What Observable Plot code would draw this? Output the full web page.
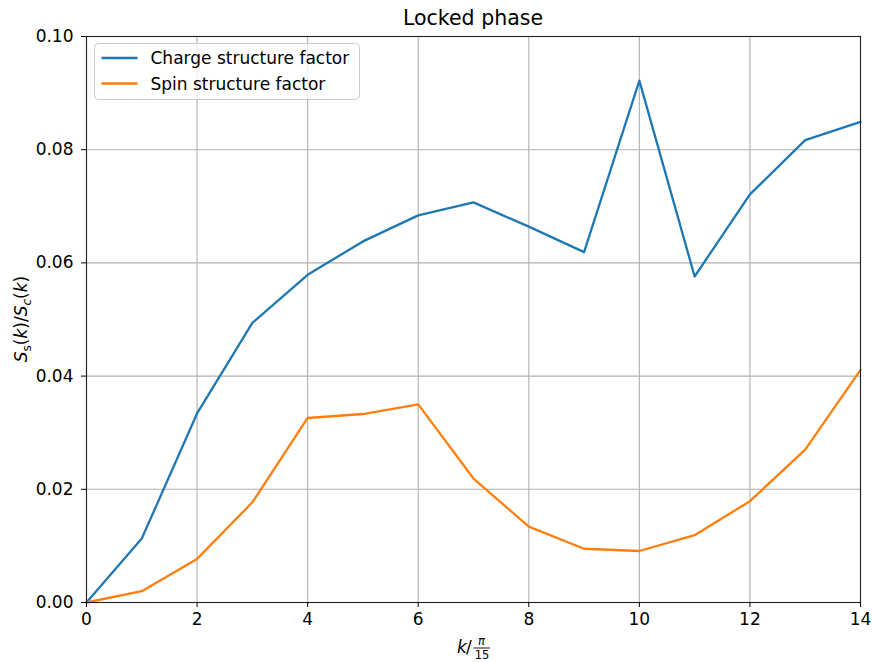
<!DOCTYPE html>
<html>
<head>
<meta charset="utf-8">
<script src="https://cdn.jsdelivr.net/npm/d3@7"></script>
<script src="https://cdn.jsdelivr.net/npm/@observablehq/plot@0.6"></script>
<style>
  html, body { margin: 0; padding: 0; background: #fff; }
  svg { font-family: "DejaVu Sans", sans-serif; }
</style>
</head>
<body>
<div id="chart"></div>
<script>
// Momentum index k (in units of pi/15)
const k = [0, 1, 2, 3, 4, 5, 6, 7, 8, 9, 10, 11, 12, 13, 14];

// Structure factors in the locked phase
const chargeSF = [0, 0.0113, 0.0334, 0.0494, 0.0579, 0.0638, 0.0684, 0.0707, 0.0664, 0.0619, 0.0922, 0.0576, 0.0721, 0.0817, 0.0849];
const spinSF   = [0, 0.0020, 0.0077, 0.0177, 0.0326, 0.0333, 0.0350, 0.0219, 0.0134, 0.0095, 0.0091, 0.0119, 0.0179, 0.0270, 0.0411];

const seriesNames = ["Charge structure factor", "Spin structure factor"];
const seriesColors = ["#1f77b4", "#ff7f0e"];

const xTicks = [0, 2, 4, 6, 8, 10, 12, 14];
const yTicks = [0, 0.02, 0.04, 0.06, 0.08, 0.10];

const rows = [
  ...k.map((kk, i) => ({k: kk, v: chargeSF[i], s: seriesNames[0]})),
  ...k.map((kk, i) => ({k: kk, v: spinSF[i], s: seriesNames[1]}))
];

const W = 872, H = 662;
const mL = 86, mR = 12, mT = 36, mB = 60;
const FS = 17;

const chart = Plot.plot({
  width: W,
  height: H,
  marginLeft: mL,
  marginRight: mR,
  marginTop: mT,
  marginBottom: mB,
  style: {fontFamily: "DejaVu Sans, sans-serif", fontSize: `${FS}px`, color: "#000", background: "#fff"},
  x: {domain: [0, 14], label: null},
  y: {domain: [0, 0.1], label: null},
  color: {domain: seriesNames, range: seriesColors},
  marks: [
    Plot.gridX(xTicks, {stroke: "#b0b0b0", strokeOpacity: 1, strokeWidth: 1.1}),
    Plot.gridY(yTicks, {stroke: "#b0b0b0", strokeOpacity: 1, strokeWidth: 1.1}),
    Plot.line(rows, {x: "k", y: "v", z: "s", stroke: "s", strokeWidth: 2.3}),
    Plot.frame({stroke: "#222", strokeWidth: 1.1}),
    Plot.axisX(xTicks, {tickSize: 5, tickPadding: 5, fontSize: FS, tickFormat: d3.format("d"), label: null, stroke: "#000"}),
    Plot.axisY(yTicks, {tickSize: 5, tickPadding: 8, fontSize: FS, tickFormat: d3.format(".2f"), label: null, stroke: "#000"})
  ]
});

document.getElementById("chart").appendChild(chart);

const svg = d3.select(chart);
const cx = mL + (W - mL - mR) / 2;
const cy = mT + (H - mT - mB) / 2;

// Title
svg.append("text")
  .attr("x", cx).attr("y", 25)
  .attr("text-anchor", "middle")
  .attr("font-size", 20.5)
  .attr("fill", "#000")
  .text("Locked phase");

// x-axis label: k / (pi over 15)
const xl = svg.append("g").attr("transform", `translate(${cx - 16},653)`).attr("fill", "#000");
xl.append("text").attr("x", 0).attr("y", 0).attr("font-size", FS).attr("text-anchor", "start").attr("font-style", "italic").text("k");
xl.append("text").attr("x", 9).attr("y", 0).attr("font-size", FS).attr("text-anchor", "start").text("/");
xl.append("text").attr("x", 24.5).attr("y", -8).attr("font-size", 11.5).attr("text-anchor", "middle").attr("font-style", "italic").text("π");
xl.append("line").attr("x1", 16.5).attr("x2", 33).attr("y1", -5).attr("y2", -5).attr("stroke", "#000").attr("stroke-width", 0.9);
xl.append("text").attr("x", 25).attr("y", 6).attr("font-size", 11.5).attr("text-anchor", "middle").text("15");

// y-axis label: S_s(k)/S_c(k)
const yl = svg.append("text")
  .attr("transform", `translate(27,${cy}) rotate(-90)`)
  .attr("text-anchor", "middle")
  .attr("font-size", FS)
  .attr("fill", "#000");
yl.append("tspan").attr("font-style", "italic").text("S");
yl.append("tspan").attr("font-size", 12).attr("dy", 3.5).text("s");
yl.append("tspan").attr("dy", -3.5).text("(");
yl.append("tspan").attr("font-style", "italic").text("k");
yl.append("tspan").text(")/");
yl.append("tspan").attr("font-style", "italic").text("S");
yl.append("tspan").attr("font-size", 12).attr("font-style", "italic").attr("dy", 3.5).text("c");
yl.append("tspan").attr("dy", -3.5).text("(");
yl.append("tspan").attr("font-style", "italic").text("k");
yl.append("tspan").text(")");

// Legend box
const lg = svg.append("g").attr("transform", `translate(94.5,43.5)`);
lg.append("rect")
  .attr("width", 265).attr("height", 56).attr("rx", 4)
  .attr("fill", "#fff").attr("fill-opacity", 0.8)
  .attr("stroke", "#cccccc").attr("stroke-width", 1);
seriesNames.forEach((name, i) => {
  const y = 14.5 + i * 25.5;
  lg.append("line").attr("x1", 7).attr("x2", 43).attr("y1", y).attr("y2", y)
    .attr("stroke", seriesColors[i]).attr("stroke-width", 2.3);
  lg.append("text").attr("x", 56).attr("y", y + 6).attr("font-size", FS)
    .attr("text-anchor", "start").attr("fill", "#000").text(name);
});
</script>
</body>
</html>
